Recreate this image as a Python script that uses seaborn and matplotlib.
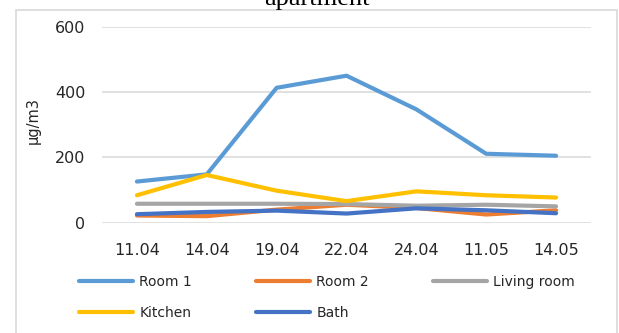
import matplotlib
matplotlib.use("Agg")
import matplotlib.pyplot as plt
from matplotlib.patches import Rectangle
import seaborn as sns
import pandas as pd

dates = ["11.04", "14.04", "19.04", "22.04", "24.04", "11.05", "14.05"]
room1 = [126, 148, 413, 450, 347, 211, 205]
room2 = [22, 20, 40, 55, 45, 25, 38]
living = [58, 58, 58, 57, 52, 55, 50]
kitchen = [84, 146, 98, 66, 96, 84, 77]
bath = [26, 33, 37, 28, 44, 38, 29]
series_names = ["Room 1", "Room 2", "Living room", "Kitchen", "Bath"]
colors = ["#5B9BD5", "#ED7D31", "#A5A5A5", "#FFC000", "#4472C4"]
yticks = [0, 200, 400, 600]

rows = []
for name, vals in zip(series_names, [room1, room2, living, kitchen, bath]):
    for d, v in zip(dates, vals):
        rows.append({"date": d, "value": v, "series": name})
df = pd.DataFrame(rows)

sns.set_style("white")
plt.rcParams["font.family"] = ["DejaVu Sans"]

W, H = 619, 333
fig = plt.figure(figsize=(W / 100, H / 100), dpi=100)
left, right, top, bottom = 102, 591, 26.7, 222.7
ax = fig.add_axes([left / W, 1 - bottom / H, (right - left) / W, (bottom - top) / H])

sns.lineplot(data=df, x="date", y="value", hue="series", hue_order=series_names,
             palette=colors, sort=False, linewidth=3.0, ax=ax, legend=False)
for ln in ax.lines:
    ln.set_solid_capstyle("round")
    ln.set_solid_joinstyle("round")

ax.set_xlim(-0.5, len(dates) - 0.5)
ax.set_ylim(0, 600)
ax.set_yticks(yticks)
ax.set_xticks(range(len(dates)))
ax.set_xticklabels(dates)
ax.grid(axis="y", color="#D9D9D9", linewidth=1.1)
ax.set_axisbelow(True)
for s in ax.spines.values():
    s.set_visible(False)
ax.tick_params(axis="y", length=0, pad=12, labelsize=11.5, labelcolor="#262626")
ax.tick_params(axis="x", length=0, pad=14.5, labelsize=11.5, labelcolor="#262626")
ax.set_xlabel("")
ax.set_ylabel("μg/m3", fontsize=10.5, color="#262626")
ax.yaxis.label.set_va("center")
ax.yaxis.set_label_coords((33 - left) / (right - left), (bottom - 121) / (bottom - top))

# legend, filled row-wise
order = [0, 3, 1, 4, 2]
handles = [plt.Line2D([], [], color=colors[i], linewidth=3.0, solid_capstyle="round") for i in order]
labels = [series_names[i] for i in order]
fig.legend(handles, labels, ncol=3, loc="upper left",
           bbox_to_anchor=(72 / W, 1 - 268 / H), frameon=False, borderpad=0,
           fontsize=10, handlelength=3.9, handletextpad=0.45, columnspacing=4.6,
           labelspacing=1.25, labelcolor="#262626")

# chart border
fig.patches.append(Rectangle((16 / W, -0.02), (617 - 16) / W, (H - 9.5) / H + 0.02,
                             transform=fig.transFigure, fill=False,
                             edgecolor="#D9D9D9", linewidth=1.2))

fig.text(317 / W, 1 - 5.5 / H, "apartment", ha="center", va="baseline",
         fontsize=19, family="Liberation Serif", color="#000000")

fig.savefig("out.png", dpi=100)
